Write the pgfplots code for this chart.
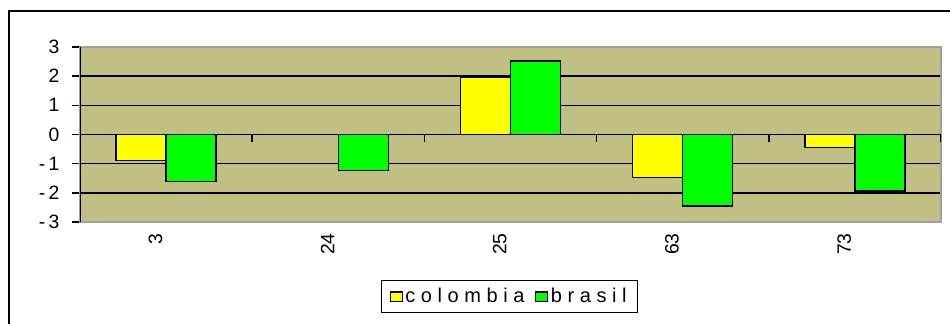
\documentclass[border=0pt]{standalone}
\usepackage{fontspec}
\setmainfont{Liberation Sans}
\usepackage{pgfplots}
\pgfplotsset{compat=1.18}
\definecolor{olivebg}{RGB}{192,192,132}
\definecolor{ybar}{RGB}{255,255,0}
\definecolor{gbar}{RGB}{0,255,0}
\definecolor{bordergray}{RGB}{160,160,160}
\begin{document}
\begin{tikzpicture}
\useasboundingbox (0,0) rectangle (712.5pt,-243pt);
\begin{scope}
\clip (0,0) rectangle (712.5pt,-243pt);
\draw[black, line width=1.3pt] (6.75pt,-8.25pt) rectangle (730pt,-270pt);
\end{scope}
\begin{axis}[
  at={(60pt,-35.25pt)}, anchor=north west,
  scale only axis, width=645.75pt, height=131.25pt,
  ybar=0pt, bar width=37.5pt,
  xmin=-0.5, xmax=4.5, ymin=-3, ymax=3,
  xtick={0,1,2,3,4}, xticklabels={3,24,25,63,73},
  x tick style={draw=none},
  ytick={-3,-2,-1,0,1,2,3}, yticklabels={{-\,3},{-\,2},{-\,1},0,1,2,3},
  ytick pos=left, tick align=outside, major tick length=6pt,
  y tick style={black, line width=1.1pt},
  ymajorgrids, grid style={black, line width=1.1pt},
  axis line style={bordergray, line width=1.2pt},
  axis background/.style={fill=olivebg},
  tick label style={font=\fontsize{14.5}{17}\selectfont},
  yticklabel style={xshift=-6pt},
  xticklabel style={rotate=90, anchor=east, xshift=1pt, yshift=8pt},
  every axis plot/.append style={draw=black, line width=1.1pt},
  legend style={at={(0.4988,-0.4257)}, anchor=center, draw=black, line width=1pt,
    font=\fontsize{15}{17}\selectfont\addfontfeature{LetterSpace=28},
    inner xsep=6pt, inner ysep=4pt,
    /tikz/every even column/.append style={column sep=6pt}},
  legend columns=2,
  legend image code/.code={\draw[#1, line width=0.8pt] (3pt,-3.4pt) rectangle (12pt,3.4pt);},
]
\addplot[fill=ybar] coordinates {(0,-0.9) (1,0) (2,1.95) (3,-1.48) (4,-0.45)};
\addplot[fill=gbar] coordinates {(0,-1.61) (1,-1.23) (2,2.52) (3,-2.45) (4,-1.94)};
\legend{colombia,brasil}
\draw[black, line width=1.1pt] (rel axis cs:0,0) -- (axis cs:-0.5,3);
\draw[black, line width=1.1pt] (axis cs:-0.5,0) -- (axis cs:4.5,0);
\pgfplotsinvokeforeach{0.5,1.5,2.5,3.5,4.5}{
  \draw[black, line width=1.1pt] (axis cs:#1,0) -- ([yshift=-6pt]axis cs:#1,0);
}
\end{axis}
\end{tikzpicture}
\end{document}
